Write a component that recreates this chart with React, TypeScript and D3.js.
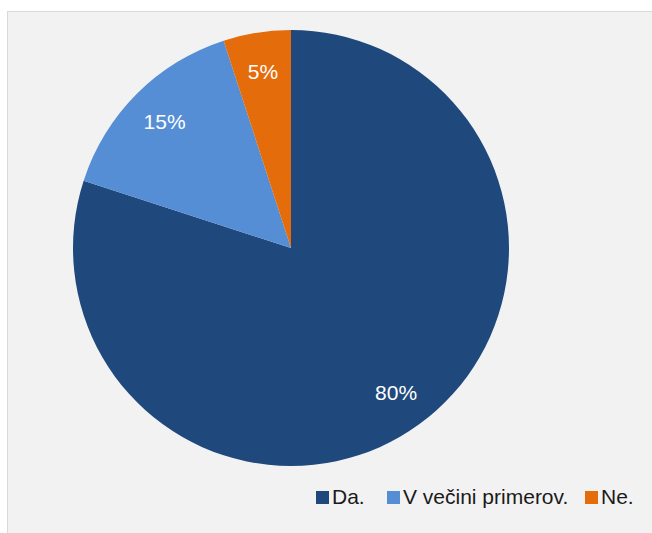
import { useRef, useEffect } from 'react';
import * as d3 from 'd3';

const categories = ['Da.', 'V večini primerov.', 'Ne.'];
const values = [80, 15, 5];
const colors = ['#1f497d', '#558ed5', '#e46c0a'];

export default function App() {
  const svgRef = useRef<SVGSVGElement>(null);
  const width = 652;
  const height = 533;

  useEffect(() => {
    if (!svgRef.current) return;
    const svg = d3.select(svgRef.current);
    svg.selectAll('*').remove();

    // background panel
    svg.append('rect').attr('width', width).attr('height', height).attr('fill', '#ffffff');
    svg.append('rect')
      .attr('x', 7.5).attr('y', 11.5)
      .attr('width', width).attr('height', height)
      .attr('fill', '#f2f2f2')
      .attr('stroke', '#d9d9d9')
      .attr('stroke-width', 1);

    const cx = 291, cy = 248, r = 218;
    const g = svg.append('g').attr('transform', `translate(${cx},${cy})`);

    const pie = d3.pie<number>().sort(null).value(d => d);
    const arcs = pie(values);
    const arc = d3.arc<d3.PieArcDatum<number>>().innerRadius(0).outerRadius(r);
    const labelArc = d3.arc<d3.PieArcDatum<number>>().innerRadius(r * 0.82).outerRadius(r * 0.82);

    g.selectAll('path.slice')
      .data(arcs)
      .join('path')
      .attr('class', 'slice')
      .attr('d', arc)
      .attr('fill', (_, i) => colors[i]);

    g.selectAll('text.lbl')
      .data(arcs)
      .join('text')
      .attr('class', 'lbl')
      .attr('transform', d => `translate(${labelArc.centroid(d)})`)
      .attr('text-anchor', 'middle')
      .attr('dy', '0.35em')
      .attr('fill', '#ffffff')
      .attr('font-family', 'Liberation Sans, Arial, sans-serif')
      .attr('font-size', 21)
      .text(d => `${d.data}%`);

    // legend
    const legendX = [316, 387, 585];
    const legend = svg.append('g').attr('transform', 'translate(0,497)');
    categories.forEach((c, i) => {
      legend.append('rect')
        .attr('x', legendX[i]).attr('y', -6)
        .attr('width', 13).attr('height', 13)
        .attr('fill', colors[i]);
      legend.append('text')
        .attr('x', legendX[i] + 16)
        .attr('y', 0)
        .attr('dy', '0.35em')
        .attr('fill', '#1a1a1a')
        .attr('font-family', 'Liberation Sans, Arial, sans-serif')
        .attr('font-size', 21)
        .text(c);
    });
  }, []);

  return (
    <svg
      ref={svgRef}
      width={width}
      height={height}
      style={{ position: 'absolute', left: 0, top: 0 }}
    />
  );
}
